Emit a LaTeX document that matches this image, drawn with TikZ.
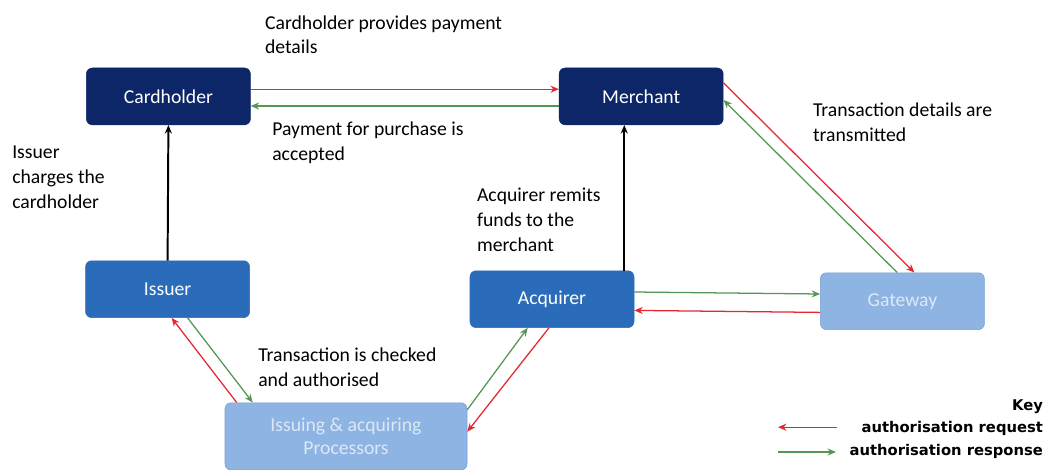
\documentclass[tikz,border=0pt]{standalone}
\usepackage{fontspec}
\setmainfont{Carlito}
\newfontfamily\keyfont{DejaVu Sans}
\usetikzlibrary{arrows.meta,calc}

\definecolor{navy}{RGB}{12,38,104}
\definecolor{midblue}{RGB}{42,108,186}
\definecolor{paleblue}{RGB}{141,180,226}
\definecolor{paleedge}{RGB}{120,160,210}
\definecolor{paletext}{RGB}{220,232,246}
\definecolor{reqred}{RGB}{228,40,50}
\definecolor{resgreen}{RGB}{84,150,84}

\tikzset{
  party/.style={rounded corners=0.15cm, minimum width=4.1cm, minimum height=1.42cm,
    font=\fontsize{14}{16.5}\selectfont, align=center},
  darkbox/.style={party, fill=navy, draw=navy, text=white},
  midbox/.style={party, fill=midblue, draw=midblue, text=white},
  palebox/.style={party, fill=paleblue, draw=paleedge, text=paletext},
  note/.style={anchor=north west, inner sep=0pt, align=left,
    font=\fontsize{14}{17.5}\selectfont},
  keytext/.style={anchor=north east, inner sep=0pt,
    font=\keyfont\fontsize{10.5}{13}\selectfont\bfseries},
  request/.style={draw=reqred, line width=0.9pt, -{Stealth[length=6pt,width=5pt]}},
  response/.style={draw=resgreen, line width=0.9pt, -{Stealth[length=6pt,width=5pt]}},
  funds/.style={draw=black, line width=1.4pt, -{Stealth[length=6pt,width=5pt]}}
}

\begin{document}
\begin{tikzpicture}

    % Fix the page size
    \useasboundingbox (0,0) rectangle (26.5,-11.75);

    % The parties
    \node[darkbox] (card) at (4.21,-2.41) {Cardholder};
    \node[darkbox] (merch) at (16.03,-2.41) {Merchant};
    \node[midbox] (issuer) at (4.19,-7.23) {Issuer};
    \node[midbox] (acq) at (13.8,-7.48) {Acquirer};
    \node[palebox] (gate) at (22.56,-7.53) {Gateway};
    \node[palebox, minimum width=6.05cm, minimum height=1.68cm] (proc) at (8.65,-10.91)
        {Issuing \& acquiring\\Processors};

    % Cardholder and merchant
    \draw[request] ([yshift=0.18cm]card.east) -- ([yshift=0.18cm]merch.west);
    \draw[response] ([yshift=-0.24cm]merch.west) -- ([yshift=-0.24cm]card.east);

    % Merchant and gateway
    \draw[request] ([yshift=0.34cm]merch.east) -- ([xshift=0.3cm]gate.north);
    \draw[response] ([xshift=-0.13cm]gate.north) -- ([yshift=-0.09cm]merch.east);

    % Gateway and acquirer
    \draw[response] ([yshift=0.18cm]acq.east) -- ([yshift=0.18cm]gate.west);
    \draw[request] ([yshift=-0.28cm]gate.west) -- ([yshift=-0.28cm]acq.east);

    % Acquirer and processors
    \draw[request] ([xshift=1.98cm]acq.south west) -- ([yshift=-0.73cm]proc.north east);
    \draw[response] ([yshift=-0.18cm]proc.north east) -- ([xshift=1.45cm]acq.south west);

    % Processors and issuer
    \draw[request] ([xshift=0.3cm]proc.north west) -- ([xshift=0.1cm]issuer.south);
    \draw[response] ([xshift=0.5cm]issuer.south) -- ([xshift=0.7cm]proc.north west);

    % Funds
    \draw[funds] (issuer.north) -- (card.south);
    \coordinate (remit) at ([xshift=-0.25cm]acq.north east);
    \draw[funds] (remit) -- (remit |- merch.south);

    % Labels
    \node[note] (lbl1) at (6.62,-0.38) {Cardholder provides payment\\details};
    \node[note] (lbl2) at (6.8,-3.05) {Payment for purchase is\\accepted};
    \node[note] (lbl3) at (0.3,-3.65) {Issuer\\charges the\\cardholder};
    \node[note] (lbl4) at (11.92,-4.7) {Acquirer remits\\funds to the\\merchant};
    \node[note] (lbl5) at (20.32,-2.57) {Transaction details are\\transmitted};
    \node[note] (lbl6) at (6.45,-8.7) {Transaction is checked\\and authorised};

    % Key
    \node[keytext] (keyhead) at (26.08,-9.98) {Key};
    \node[keytext] (keyreq) at (26.08,-10.53) {authorisation request};
    \node[keytext] (keyres) at (26.08,-11.1) {authorisation response};
    \coordinate (reqa) at (20.92,-10.68);
    \coordinate (reqb) at (19.45,-10.68);
    \draw[request] (reqa) -- (reqb);
    \coordinate (resa) at (19.45,-11.3);
    \coordinate (resb) at (20.9,-11.3);
    \draw[response] (resa) -- (resb);

\end{tikzpicture}
\end{document}
